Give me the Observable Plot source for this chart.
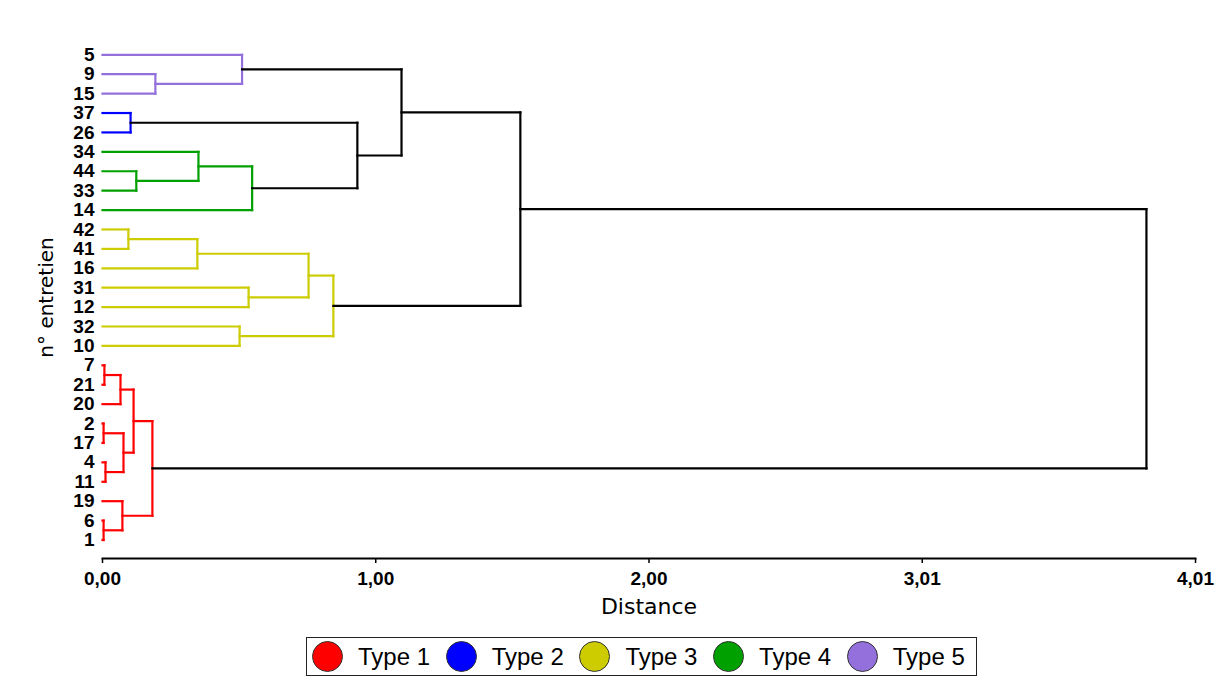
<!DOCTYPE html>
<html><head><meta charset="utf-8">
<script src="https://cdn.jsdelivr.net/npm/d3@7"></script>
<script src="https://cdn.jsdelivr.net/npm/@observablehq/plot@0.6"></script>
<style>
body{margin:0;background:#fff;font-family:"Liberation Sans",Arial,sans-serif;}
#wrap{position:relative;width:1228px;height:680px;background:#fff;}
#legend{position:absolute;left:306px;top:637px;width:671px;height:39px;border:1.5px solid #222;display:flex;align-items:center;padding-left:5px;box-sizing:border-box;}
.item{display:flex;align-items:center;width:133.7px;flex:none;}
.dot{width:31px;height:31px;border-radius:50%;border:1px solid #333;box-sizing:border-box;margin-right:15px;flex:none;}
.lab{font-size:24px;color:#000;white-space:nowrap;font-family:"Liberation Sans",Arial,sans-serif;}
</style></head><body><div id="wrap"></div>
<script>
// Leaves in dendrogram order (top to bottom) and their cluster type
const leaves = ["5","9","15","37","26","34","44","33","14","42","41","16","31","12","32","10","7","21","20","2","17","4","11","19","6","1"];
const leafType = [5,5,5,2,2,4,4,4,4,3,3,3,3,3,3,3,1,1,1,1,1,1,1,1,1,1];

// Merges: children (leaf label or "#k" = k-th merge) and merge distance
const mergeA    = ["9","5","37","44","34","#4","#2","#1","42","#8","31","#9","32","#11","#7","7","#15","2","4","#17","#16","6","19","#20","#14"];
const mergeB    = ["15","#0","26","33","#3","14","#5","#6","41","16","12","#10","10","#12","#13","21","20","17","11","#18","#19","1","#21","#22","#23"];
const mergeDist = [0.194,0.512,0.103,0.124,0.352,0.549,0.935,1.097,0.095,0.348,0.536,0.756,0.503,0.847,1.533,0.007,0.066,0.004,0.011,0.077,0.114,0.004,0.073,0.183,3.830];

const typeNames  = ["Type 1","Type 2","Type 3","Type 4","Type 5"];
const typeColors = ["#ff0000","#0000ff","#cccc00","#00a000","#9370db"];

const xTickValues = [0, 1.0025, 2.005, 3.0075, 4.01];
const xTickLabels = ["0,00","1,00","2,00","3,01","4,01"];

// Build dendrogram segments
const node = new Map();
leaves.forEach((l, i) => node.set(l, {x: 0, y: i, t: leafType[i]}));
const segs = [];
mergeA.forEach((a, k) => {
  const A = node.get(a), B = node.get(mergeB[k]);
  const t = A.t === B.t ? A.t : 0;
  const m = {x: mergeDist[k], y: (A.y + B.y) / 2, t};
  node.set("#" + k, m);
  segs.push({x1: A.x, y1: A.y, x2: m.x, y2: A.y, t});
  segs.push({x1: B.x, y1: B.y, x2: m.x, y2: B.y, t});
  segs.push({x1: m.x, y1: A.y, x2: m.x, y2: B.y, t});
});

const chart = Plot.plot({
  width: 1228, height: 630,
  marginLeft: 102, marginRight: 33, marginTop: 40, marginBottom: 72,
  style: {fontFamily: "Liberation Sans, Arial, sans-serif", background: "#fff", color: "#000", overflow: "visible"},
  x: {domain: [0, 4.01]},
  y: {domain: [0, leaves.length - 1], reverse: true, insetTop: 14.3, insetBottom: 18.5},
  color: {type: "ordinal", domain: [0,1,2,3,4,5], range: ["#000000", ...typeColors]},
  marks: [
    Plot.link(segs, {x1: "x1", y1: "y1", x2: "x2", y2: "y2", stroke: "t", strokeWidth: 2.2, strokeLinecap: "square"}),
    Plot.axisY(d3.range(leaves.length), {tickFormat: (d) => leaves[d], tickSize: 0, tickPadding: 8, fontSize: 19, fontWeight: "bold", label: null}),
    Plot.axisX(xTickValues, {tickFormat: (d, i) => xTickLabels[i], tickSize: 5, tickPadding: 8, fontSize: 19, fontWeight: "bold", label: null, strokeWidth: 1.5}),
    Plot.frame({anchor: "bottom", strokeWidth: 2}),
    Plot.text(["Distance"], {frameAnchor: "bottom", dy: 40, lineAnchor: "top", textAnchor: "middle", fontSize: 22, fontFamily: "DejaVu Sans"}),
    Plot.text(["n° entretien"], {frameAnchor: "left", rotate: -90, textAnchor: "middle", dx: -56, dy: -2, fontSize: 20, fontFamily: "DejaVu Sans"})
  ]
});
const wrap = document.getElementById("wrap");
wrap.appendChild(chart);

const legend = document.createElement("div");
legend.id = "legend";
typeNames.forEach((name, i) => {
  const it = document.createElement("div"); it.className = "item";
  const dot = document.createElement("div"); dot.className = "dot"; dot.style.background = typeColors[i];
  const lab = document.createElement("span"); lab.className = "lab"; lab.textContent = name;
  it.appendChild(dot); it.appendChild(lab); legend.appendChild(it);
});
wrap.appendChild(legend);
</script></body></html>
